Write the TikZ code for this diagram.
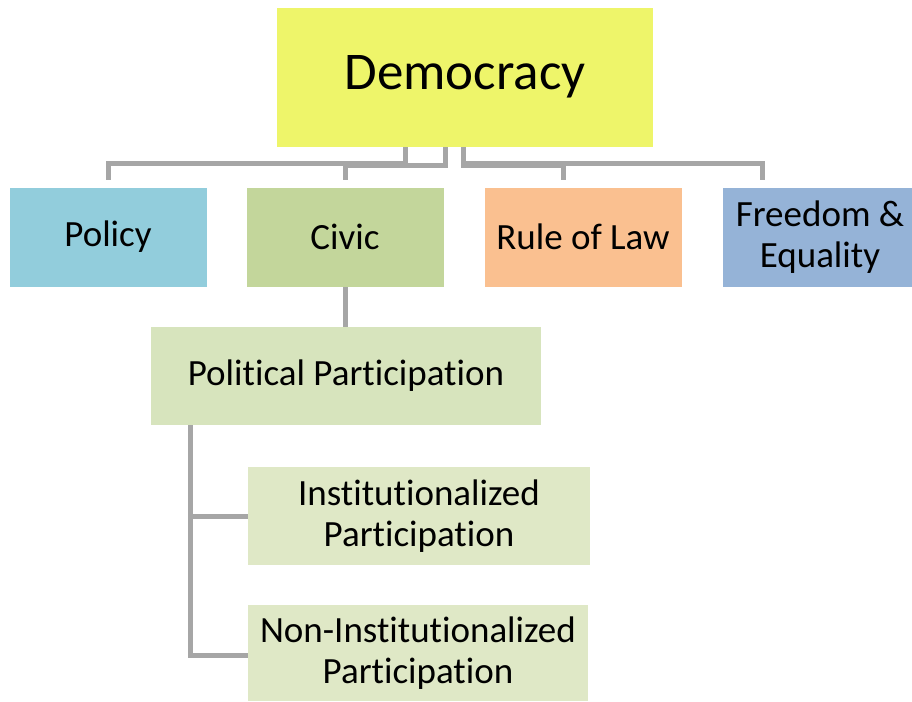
\documentclass[tikz,border=0pt]{standalone}
\usepackage{fontspec}
\setmainfont[Ligatures=NoCommon]{Carlito}
\definecolor{demo}{HTML}{EEF56A}
\definecolor{pol}{HTML}{92CDDC}
\definecolor{civ}{HTML}{C3D69B}
\definecolor{rule}{HTML}{FAC090}
\definecolor{free}{HTML}{95B3D7}
\definecolor{ppart}{HTML}{D7E4BD}
\definecolor{sub}{HTML}{DFE8C6}
\definecolor{conn}{HTML}{A6A6A6}
\begin{document}
\begin{tikzpicture}[x=0.5pt,y=-0.5pt,
  box/.style={inner sep=0pt,outer sep=0pt,align=center,font=\fontsize{18.5}{20.5}\selectfont},
  link/.style={draw=conn,line width=2.5pt}]
\useasboundingbox (0,0) rectangle (912,702);
\fill[demo] (277,8) rectangle (653,147);
\node[box,font=\fontsize{26.5}{30}\selectfont] (demo) at (465,77) {Democracy};
\fill[pol] (10,188) rectangle (207,287);
\node[box] (policy) at (108,237) {Policy};
\fill[civ] (247,188) rectangle (444,287);
\node[box] (civic) at (345,237) {Civic};
\fill[rule] (485,188) rectangle (682,287);
\node[box] (rule) at (583,237) {Rule of Law};
\fill[free] (723,188) rectangle (912,287);
\node[box] (free) at (820,237) {Freedom \&\\Equality};
\fill[ppart] (151,327) rectangle (541,425);
\node[box] (pp) at (346,376) {Political Participation};
\fill[sub] (248,467) rectangle (590,565);
\node[box] (ip) at (419,516) {Institutionalized\\Participation};
\fill[sub] (248,605) rectangle (588,701);
\node[box] (nip) at (418,653) {Non-Institutionalized\\Participation};
\coordinate (d1) at (405,147);
\coordinate (d2) at (445,147);
\coordinate (d3) at (463,147);
\draw[link] (d1) -- (405,163) -- (108,163) -- (108,180);
\draw[link] (d2) -- (445,165) -- (345,165) -- (345,180);
\draw[link] (d3) -- (463,165) -- (563,165) -- (563,180);
\draw[link] (d3) -- (463,163) -- (762,163) -- (762,180);
\draw[link] (345,287) -- (345,327);
\draw[link] (190,425) -- (190,655) -- (248,655);
\draw[link] (190,516) -- (248,516);
\end{tikzpicture}
\end{document}
